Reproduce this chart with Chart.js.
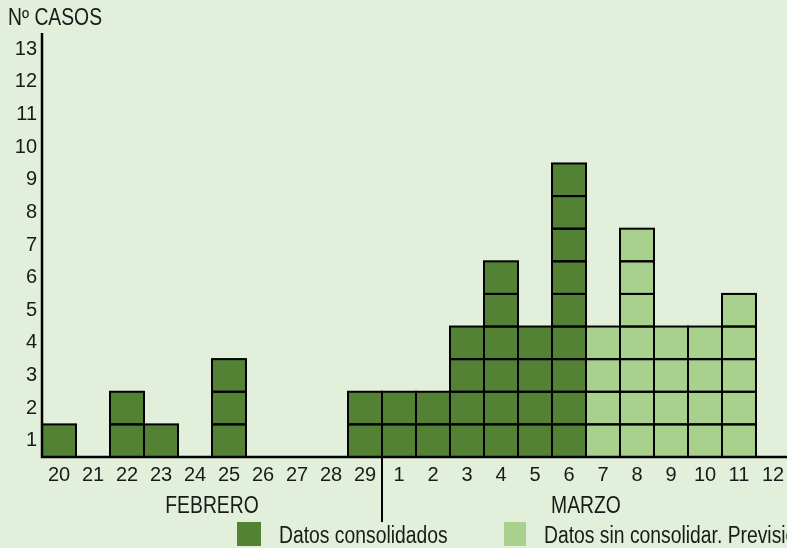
<!DOCTYPE html>
<html>
<head>
<meta charset="utf-8">
<script src="https://cdn.jsdelivr.net/npm/chart.js@4/dist/chart.umd.min.js"></script>
<style>
  html, body { margin: 0; padding: 0; background: #E2EFDA; overflow: hidden; }
  #wrap { position: relative; width: 800px; height: 548px; }
</style>
</head>
<body>
<div id="wrap"><canvas id="epiChart"></canvas></div>
<script>
// dias del brote
const days = ['20', '21', '22', '23', '24', '25', '26', '27', '28', '29',
              '1', '2', '3', '4', '5', '6', '7', '8', '9', '10', '11', '12'];
const febCount = 10; // 20..29 son de febrero, el resto de marzo
const consolidados = [1, 0, 2, 1, 0, 3, 0, 0, 0, 2, 2, 2, 4, 6, 4, 9, 0, 0, 0, 0, 0, 0];
const sinConsolidar = [0, 0, 0, 0, 0, 0, 0, 0, 0, 0, 0, 0, 0, 0, 0, 0, 4, 7, 4, 4, 5, 0];
const yMax = 13;
const monthLabels = ['FEBRERO', 'MARZO'];
const legendLabels = ['Datos consolidados', 'Datos sin consolidar. Previsión'];

const darkGreen = '#548235';
const lightGreen = '#A9D18E';
const textColor = '#1a1a1a';
const FONT = '"Liberation Sans", Arial, sans-serif';

// un dataset por nivel: cada caso es un cuadrado apilado
const datasets = [];
for (let k = 1; k <= yMax; k++) {
    datasets.push({
        label: 'nivel ' + k,
        data: days.map((d, i) => (consolidados[i] + sinConsolidar[i] >= k ? 1 : 0)),
        backgroundColor: days.map((d, i) => (sinConsolidar[i] > 0 ? lightGreen : darkGreen)),
        borderWidth: 0,
        barPercentage: 1,
        categoryPercentage: 1,
    });
}

// texto estrecho (tipo Arial Narrow) escalando en horizontal
function narrowText(ctx, txt, x, y, align) {
    const sx = 0.84;
    ctx.save();
    ctx.font = '23px ' + FONT;
    ctx.textBaseline = 'middle';
    ctx.textAlign = align;
    ctx.translate(x, y);
    ctx.scale(sx, 1);
    ctx.fillText(txt, 0, 0);
    ctx.restore();
}

const squaresAndLabels = {
    id: 'squaresAndLabels',
    afterDatasetsDraw(chart) {
        const ctx = chart.ctx;
        const area = chart.chartArea;
        ctx.save();
        ctx.strokeStyle = '#000';
        ctx.lineWidth = 2;
        chart.data.datasets.forEach((ds, di) => {
            const meta = chart.getDatasetMeta(di);
            meta.data.forEach((el, i) => {
                if (!ds.data[i]) return;
                const p = el.getProps(['x', 'y', 'base', 'width'], true);
                ctx.strokeRect(p.x - p.width / 2, p.y, p.width, p.base - p.y);
            });
        });
        // ejes
        ctx.lineWidth = 2.5;
        ctx.beginPath();
        ctx.moveTo(area.left, area.top);
        ctx.lineTo(area.left, area.bottom);
        ctx.lineTo(chart.width, area.bottom);
        ctx.stroke();
        ctx.restore();
    },
    afterDraw(chart) {
        const ctx = chart.ctx;
        const xs = chart.scales.x;
        const area = chart.chartArea;
        const slot = xs.getPixelForValue(1) - xs.getPixelForValue(0);
        const sepX = xs.getPixelForValue(febCount - 1) + slot / 2;
        ctx.save();
        // separador febrero / marzo
        ctx.strokeStyle = '#000';
        ctx.lineWidth = 2;
        ctx.beginPath();
        ctx.moveTo(sepX, area.bottom);
        ctx.lineTo(sepX, area.bottom + 65);
        ctx.stroke();

        ctx.fillStyle = textColor;
        const febMid = (xs.getPixelForValue(0) - slot / 2 + sepX) / 2;
        const marMid = (sepX + xs.getPixelForValue(days.length - 1) + slot / 2) / 2;
        narrowText(ctx, monthLabels[0], febMid, area.bottom + 50, 'center');
        narrowText(ctx, monthLabels[1], marMid, area.bottom + 50, 'center');

        // titulo del eje
        narrowText(ctx, 'Nº CASOS', 8, 19, 'left');

        // leyenda
        ctx.fillStyle = darkGreen;
        ctx.fillRect(237, 522, 24, 24);
        ctx.fillStyle = lightGreen;
        ctx.fillRect(504, 522, 22, 24);
        ctx.fillStyle = textColor;
        narrowText(ctx, legendLabels[0], 279, 537, 'left');
        narrowText(ctx, legendLabels[1], 544, 537, 'left');
        ctx.restore();
    }
};

new Chart(document.getElementById('epiChart'), {
    type: 'bar',
    data: { labels: days, datasets: datasets },
    plugins: [squaresAndLabels],
    options: {
        responsive: true,
        maintainAspectRatio: false,
        animation: false,
        layout: { padding: { top: 33, right: 10, left: 0, bottom: 0 } },
        plugins: {
            legend: { display: false },
            tooltip: { enabled: false },
        },
        scales: {
            x: {
                stacked: true,
                afterFit(scale) { scale.height = 91; },
                grid: { display: false, drawTicks: false },
                border: { display: false },
                ticks: {
                    color: textColor,
                    padding: 6,
                    font: { family: FONT, size: 20 },
                    maxRotation: 0,
                    autoSkip: false,
                },
            },
            y: {
                stacked: true,
                min: 0,
                max: yMax,
                afterFit(scale) { scale.width = 42; },
                afterBuildTicks(scale) {
                    const t = [];
                    for (let k = 1; k <= yMax; k++) t.push({ value: k - 0.5 });
                    scale.ticks = t;
                },
                grid: { display: false, drawTicks: false },
                border: { display: false },
                ticks: {
                    color: textColor,
                    padding: 5,
                    font: { family: FONT, size: 20 },
                    callback: (v) => String(Math.round(v + 0.5)),
                },
            },
        },
    },
});
</script>
</body>
</html>
